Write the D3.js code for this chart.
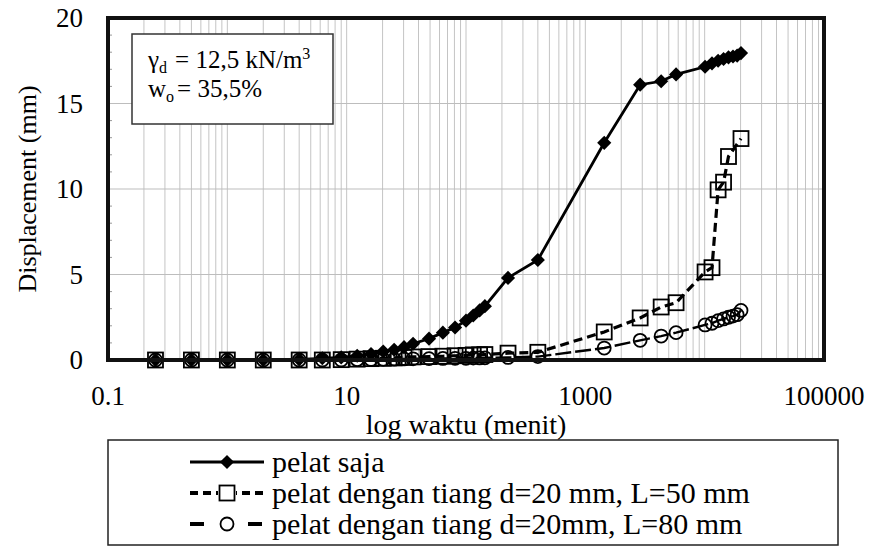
<!DOCTYPE html>
<html>
<head>
<meta charset="utf-8">
<script src="https://cdn.jsdelivr.net/npm/d3@7"></script>
<style>
  body { margin: 0; background: #fff; }
  svg { display: block; font-family: "Liberation Serif", "Times New Roman", serif; }
</style>
</head>
<body>
<div id="chart"></div>
<script>
// reading times (menit)
const times = [0.25, 0.5, 1, 2, 4, 6.25, 9, 12.25, 16, 20.25, 25, 30.25, 36, 49, 64, 81, 100, 115, 130, 144,
  225, 400, 1440, 2880, 4320, 5760, 10080, 11520, 12960, 14400, 15840, 17280, 18720, 20160];

// displacement (mm)
const pelatSaja = [0, 0, 0, 0, 0.03, 0.1, 0.15, 0.25, 0.35, 0.5, 0.6, 0.75, 0.95, 1.25, 1.6, 1.9, 2.3, 2.6, 2.9, 3.15,
  4.8, 5.85, 12.7, 16.1, 16.3, 16.7, 17.15, 17.35, 17.5, 17.6, 17.7, 17.75, 17.8, 17.95];
const tiangL50 = [0, 0, 0, 0, 0, 0, 0.02, 0.05, 0.08, 0.1, 0.12, 0.15, 0.18, 0.2, 0.22, 0.25, 0.27, 0.3, 0.3, 0.32,
  0.4, 0.45, 1.64, 2.46, 3.1, 3.35, 5.15, 5.4, 9.95, 10.4, 11.9, null, null, 12.95];
const tiangL80 = [0, 0, 0, 0, 0, 0, 0, 0.02, 0.03, 0.04, 0.05, 0.06, 0.07, 0.08, 0.09, 0.1, 0.1, 0.11, 0.12, 0.13,
  0.15, 0.2, 0.7, 1.15, 1.4, 1.6, 2.05, 2.15, 2.3, 2.4, 2.5, 2.57, 2.65, 2.9];

const legendLabels = ["pelat saja", "pelat dengan tiang d=20 mm, L=50 mm", "pelat dengan tiang d=20mm, L=80 mm"];
const xTickLabels = [0.1, 10, 1000, 100000];
const yTickValues = [0, 5, 10, 15, 20];

const width = 875, height = 547;
const plotLeft = 108, plotRight = 824, plotTop = 18, plotBottom = 360;

const x = d3.scaleLog().domain([0.1, 100000]).range([plotLeft, plotRight]);
const y = d3.scaleLinear().domain([0, 20]).range([plotBottom, plotTop]);

const svg = d3.select("#chart").append("svg")
    .attr("width", width)
    .attr("height", height);

// grid
svg.append("g")
    .attr("stroke", "#c4c4c4")
    .attr("stroke-width", 1)
  .selectAll("line")
  .data(x.ticks())
  .join("line")
    .attr("x1", d => x(d)).attr("x2", d => x(d))
    .attr("y1", plotTop).attr("y2", plotBottom);

svg.append("g")
    .attr("stroke", "#bdbdbd")
  .selectAll("line")
  .data([5, 10, 15])
  .join("line")
    .attr("x1", plotLeft).attr("x2", plotRight)
    .attr("y1", d => y(d)).attr("y2", d => y(d));

// minor y ticks
svg.append("g")
    .attr("stroke", "#999")
  .selectAll("line")
  .data(d3.range(1, 20).filter(d => d % 5))
  .join("line")
    .attr("x1", plotLeft).attr("x2", plotLeft + 4)
    .attr("y1", d => y(d)).attr("y2", d => y(d));

// tick labels
svg.append("g")
    .style("font-size", "27px")
    .attr("text-anchor", "end")
  .selectAll("text")
  .data(yTickValues)
  .join("text")
    .attr("x", 83)
    .attr("y", d => y(d) + 9)
    .text(d => d);

svg.append("g")
    .style("font-size", "27px")
    .attr("text-anchor", "middle")
  .selectAll("text")
  .data(xTickLabels)
  .join("text")
    .attr("x", d => x(d))
    .attr("y", 405)
    .text(d => d);

svg.append("text")
    .attr("x", (plotLeft + plotRight) / 2)
    .attr("y", 434)
    .attr("text-anchor", "middle")
    .style("font-size", "28px")
    .text("log waktu (menit)");

svg.append("text")
    .attr("transform", `translate(36,${(plotTop + plotBottom) / 2}) rotate(-90)`)
    .attr("text-anchor", "middle")
    .style("font-size", "26px")
    .text("Displacement (mm)");

// series
const series = [
  {name: legendLabels[0], values: pelatSaja, dash: null, width: 2.8, marker: "diamond", legendDash: null},
  {name: legendLabels[1], values: tiangL50, dash: "9,5", width: 3.2, marker: "square", legendDash: "8,5"},
  {name: legendLabels[2], values: tiangL80, dash: "16,4", width: 2.4, marker: "circle", legendDash: "14,44"}
];

const line = d3.line().x(d => x(d.t)).y(d => y(d.v));

function drawMarker(g, type) {
  if (type === "diamond") {
    g.append("path")
        .attr("d", d3.symbol(d3.symbolSquare, 100)())
        .attr("transform", "rotate(45)")
        .attr("fill", "#000");
  } else if (type === "square") {
    g.append("rect")
        .attr("x", -7.5).attr("y", -7.5)
        .attr("width", 15).attr("height", 15)
        .attr("fill", "none")
        .attr("stroke", "#000")
        .attr("stroke-width", 1.8);
  } else {
    g.append("circle")
        .attr("r", 6.5)
        .attr("fill", "none")
        .attr("stroke", "#000")
        .attr("stroke-width", 1.8);
  }
}

series.slice().reverse().forEach(s => {
  const pts = times.map((t, i) => ({t, v: s.values[i]})).filter(d => d.v !== null);
  svg.append("path")
      .datum(pts)
      .attr("fill", "none")
      .attr("stroke", "#000")
      .attr("stroke-width", s.width)
      .attr("stroke-dasharray", s.dash)
      .attr("d", line);
  svg.append("g")
    .selectAll("g")
    .data(pts)
    .join("g")
      .attr("transform", d => `translate(${x(d.t)},${y(d.v)})`)
      .each(function() { drawMarker(d3.select(this), s.marker); });
});

// plot frame
svg.append("rect")
    .attr("x", plotLeft).attr("y", plotTop)
    .attr("width", plotRight - plotLeft).attr("height", plotBottom - plotTop)
    .attr("fill", "none")
    .attr("stroke", "#111")
    .attr("stroke-width", 4);

// annotation box
const note = svg.append("g");
note.append("rect")
    .attr("x", 132).attr("y", 34)
    .attr("width", 201).attr("height", 90)
    .attr("fill", "#fff")
    .attr("stroke", "#333")
    .attr("stroke-width", 1.5);
const t1 = note.append("text").attr("x", 148).attr("y", 68).style("font-size", "25px");
t1.append("tspan").text("γ");
t1.append("tspan").attr("dy", 5).style("font-size", "16px").text("d");
t1.append("tspan").attr("dy", -5).attr("dx", 8).text("= 12,5 kN/m");
t1.append("tspan").attr("dy", -9).style("font-size", "16px").text("3");
const t2 = note.append("text").attr("x", 148).attr("y", 97).style("font-size", "25px");
t2.append("tspan").text("w");
t2.append("tspan").attr("dy", 5).style("font-size", "16px").text("o");
t2.append("tspan").attr("dy", -5).attr("dx", 3).text("= 35,5%");

// legend
const legend = svg.append("g");
legend.append("rect")
    .attr("x", 108).attr("y", 440)
    .attr("width", 730).attr("height", 105)
    .attr("fill", "#fff")
    .attr("stroke", "#222")
    .attr("stroke-width", 1.5);

series.forEach((s, i) => {
  const ly = 462 + i * 31;
  const row = legend.append("g");
  row.append("line")
      .attr("x1", 190).attr("x2", 264)
      .attr("y1", ly).attr("y2", ly)
      .attr("stroke", "#000")
      .attr("stroke-width", i === 0 ? 3 : 4)
      .attr("stroke-dasharray", s.legendDash);
  const m = row.append("g").attr("transform", `translate(227,${ly})`);
  if (s.marker !== "diamond") {
    m.append("rect").attr("x", -9).attr("y", -9).attr("width", 18).attr("height", 18).attr("fill", "#fff");
  }
  drawMarker(m, s.marker);
  row.append("text")
      .attr("x", 272)
      .attr("y", ly + 10)
      .style("font-size", "30px")
      .text(s.name);
});
</script>
</body>
</html>
